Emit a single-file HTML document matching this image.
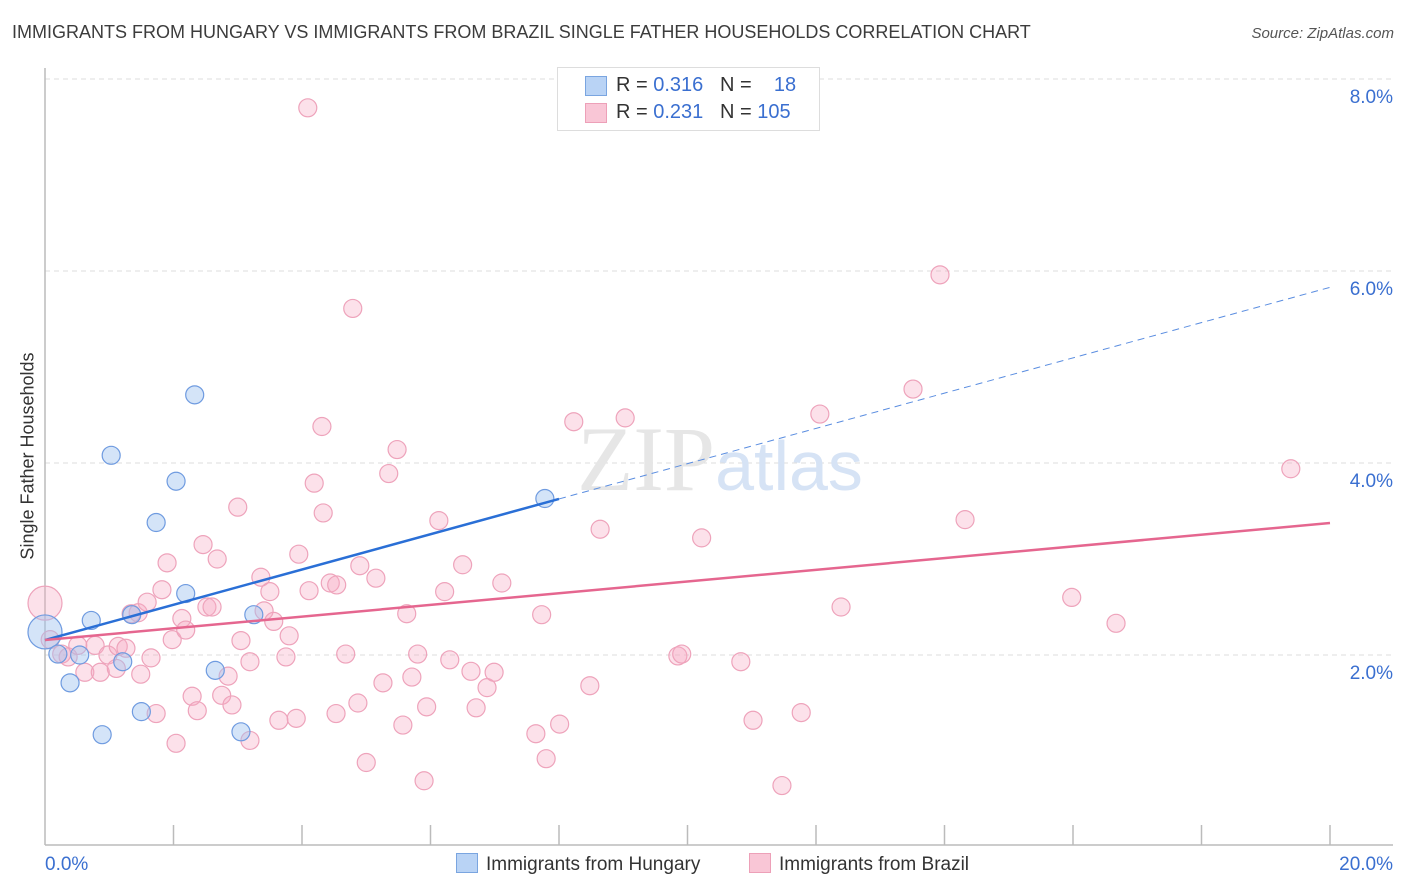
<!DOCTYPE html>
<html><head><meta charset="utf-8">
<style>
body{margin:0;background:#fff;font-family:"Liberation Sans",sans-serif;}
#wrap{position:relative;width:1406px;height:892px;overflow:hidden;}
.t{position:absolute;white-space:nowrap;}
</style></head>
<body>
<div id="wrap">
<div class="t" style="left:12px;top:22px;font-size:18px;color:#3c3c3c;">IMMIGRANTS FROM HUNGARY VS IMMIGRANTS FROM BRAZIL SINGLE FATHER HOUSEHOLDS CORRELATION CHART</div>
<div class="t" style="right:12px;top:25px;font-size:15px;color:#555;font-style:italic;">Source: ZipAtlas.com</div>
<div class="t" style="left:28px;top:456px;font-size:18px;color:#333;transform:translate(-50%,-50%) rotate(-90deg);">Single Father Households</div>
<svg id="svg" width="1406" height="892" style="position:absolute;left:0;top:0"></svg>
<div style="position:absolute;left:557px;top:67px;width:261px;height:62px;border:1px solid #ddd;background:#fff;font-size:20px;">
 <div style="position:absolute;left:27px;top:8px;width:20px;height:18px;background:#b9d3f5;border:1px solid #7aa5e0;"></div>
 <div class="t" style="left:58px;top:6px;color:#333;">R = <span style="color:#3a6fd0">0.316</span>&nbsp;&nbsp;&nbsp;N = <span style="color:#3a6fd0">&nbsp;&nbsp;&nbsp;18</span></div>
 <div style="position:absolute;left:27px;top:35px;width:20px;height:18px;background:#f9c6d6;border:1px solid #eda0b8;"></div>
 <div class="t" style="left:58px;top:33px;color:#333;">R = <span style="color:#3a6fd0">0.231</span>&nbsp;&nbsp;&nbsp;N = <span style="color:#3a6fd0">105</span></div>
</div>
<div style="position:absolute;left:456px;top:853px;font-size:19px;color:#333;">
 <span style="display:inline-block;width:20px;height:18px;background:#b9d3f5;border:1px solid #7aa5e0;vertical-align:-3px;margin-right:8px"></span>Immigrants from Hungary</div>
<div style="position:absolute;left:749px;top:853px;font-size:19px;color:#333;">
 <span style="display:inline-block;width:20px;height:18px;background:#f9c6d6;border:1px solid #eda0b8;vertical-align:-3px;margin-right:8px"></span>Immigrants from Brazil</div>
</div>
<script>
const hungaryX=[0,0.20,0.39,0.54,0.72,0.89,1.03,1.21,1.35,1.50,1.73,2.04,2.19,2.33,2.65,3.05,3.25,7.78];
const hungaryY=[2.24,2.01,1.71,2.00,2.36,1.17,4.08,1.93,2.42,1.41,3.38,3.81,2.64,4.71,1.84,1.20,2.42,3.63];
const hungarySize=[17,9,9,9,9,9,9,9,9,9,9,9,9,9,9,9,9,9];
const brazilX=[0,0.08,0.26,0.36,0.51,0.62,0.78,0.86,0.98,1.11,1.14,1.26,1.34,1.45,1.49,1.59,1.65,1.73,1.82,1.90,1.98,2.04,2.13,2.19,2.29,2.37,2.46,2.52,2.60,2.68,2.75,2.85,2.91,3.00,3.05,3.19,3.19,3.36,3.41,3.50,3.56,3.64,3.80,3.75,3.91,3.95,4.09,4.11,4.19,4.31,4.33,4.44,4.54,4.53,4.68,4.79,4.87,4.90,5.00,5.15,5.26,5.35,5.48,5.57,5.63,5.71,5.80,5.90,5.94,6.13,6.22,6.30,6.50,6.63,6.71,6.88,6.99,7.11,7.64,7.73,7.80,8.01,8.23,8.48,8.64,9.03,9.85,9.91,10.22,10.83,11.02,11.47,11.77,12.06,12.39,13.51,13.93,14.32,15.98,16.67,19.39];
const brazilY=[2.54,2.16,2.01,1.98,2.10,1.82,2.10,1.82,2.00,1.86,2.09,2.07,2.43,2.44,1.80,2.55,1.97,1.39,2.68,2.96,2.16,1.08,2.38,2.26,1.57,1.42,3.15,2.50,2.50,3.00,1.58,1.78,1.48,3.54,2.15,1.11,1.93,2.81,2.46,2.66,2.35,1.32,2.20,1.98,1.34,3.05,7.70,2.67,3.79,4.38,3.48,2.75,2.73,1.39,2.01,5.61,1.50,2.93,0.88,2.80,1.71,3.89,4.14,1.27,2.43,1.77,2.01,0.69,1.46,3.40,2.66,1.95,2.94,1.83,1.45,1.66,1.82,2.75,1.18,2.42,0.92,1.28,4.43,1.68,3.31,4.47,1.99,2.01,3.22,1.93,1.32,0.64,1.40,4.51,2.50,4.77,5.96,3.41,2.60,2.33,3.94];
const yTicks=[2,4,6,8];
const yTickLabels=["2.0%","4.0%","6.0%","8.0%"];
const xTickLabels=["0.0%","20.0%"];
const hungaryTrend=[2.156,5.83]; // value at x=0 and x=20
const hungarySolidEnd=[8.0];
const brazilTrend=[2.156,3.375];

const X0=45,X1=1330,Y0=847,PX=96;
const sx=v=>X0+(v/20)*(X1-X0);
const sy=v=>Y0-v*PX;
const svg=document.getElementById('svg');
const NS='http://www.w3.org/2000/svg';
function mk(tag,attrs,parent){const e=document.createElementNS(NS,tag);for(const k in attrs)e.setAttribute(k,attrs[k]);(parent||svg).appendChild(e);return e;}
// grid
yTicks.forEach((v,i)=>{
 const g=mk('line',{x1:X0,x2:1393,y1:sy(v),y2:sy(v),stroke:'#dcdcdc','stroke-dasharray':'5,4'});
 
 
 const t=mk('text',{x:1393,y:sy(v)+24,'text-anchor':'end','font-size':19,fill:'#3a6fd0','font-family':'Liberation Sans, sans-serif'});
 t.textContent=yTickLabels[i];
 
 
});
mk('line',{x1:X0,x2:1393,y1:79,y2:79,stroke:'#dcdcdc','stroke-dasharray':'5,4'});
const ya=mk('line',{x1:X0,x2:X0,y1:68,y2:845,stroke:'#bbb','stroke-width':1.5});


const xa=mk('line',{x1:X0,x2:1393,y1:845,y2:845,stroke:'#bbb','stroke-width':1.5});


for(let i=1;i<=10;i++){const tk=mk('line',{x1:sx(i*2),x2:sx(i*2),y1:825,y2:845,stroke:'#bbb','stroke-width':1.5});
 
 }
[[0,'start',45],[1,'end',1393]].forEach(([i,a,x])=>{const t=mk('text',{x:x,y:870,'text-anchor':a,'font-size':19,fill:'#3a6fd0','font-family':'Liberation Sans, sans-serif'});t.textContent=xTickLabels[i];
 
 });
// watermark
const wm=mk('text',{x:720,y:490,'text-anchor':'middle','font-size':92,'font-family':'Liberation Serif, serif',fill:'#e6e6e6'});
wm.innerHTML='ZIP<tspan font-family="Liberation Sans, sans-serif" font-size="70" fill="#d6e3f5">atlas</tspan>';


// points
brazilX.forEach((v,i)=>{const c=mk('circle',{cx:sx(v),cy:sy(brazilY[i]),r:i===0?17:9,fill:'rgba(247,170,195,0.35)',stroke:'#eea3bb','stroke-width':1.2});
 
 });
hungaryX.forEach((v,i)=>{const c=mk('circle',{cx:sx(v),cy:sy(hungaryY[i]),r:hungarySize[i],fill:'rgba(160,195,240,0.45)',stroke:'#6f9be0','stroke-width':1.2});
 
 });
// trends
const hAt=x=>hungaryTrend[0]+(hungaryTrend[1]-hungaryTrend[0])*x/20;
const l1=mk('line',{x1:sx(0),y1:sy(hAt(0)),x2:sx(hungarySolidEnd[0]),y2:sy(hAt(hungarySolidEnd[0])),stroke:'#2a6fd6','stroke-width':2.5});


const l2=mk('line',{x1:sx(hungarySolidEnd[0]),y1:sy(hAt(hungarySolidEnd[0])),x2:sx(20),y2:sy(hAt(20)),stroke:'#5a8de0','stroke-width':1,'stroke-dasharray':'7,5'});


const l3=mk('line',{x1:sx(0),y1:sy(brazilTrend[0]),x2:sx(20),y2:sy(brazilTrend[1]),stroke:'#e5668f','stroke-width':2.5});


</script>
</body></html>
